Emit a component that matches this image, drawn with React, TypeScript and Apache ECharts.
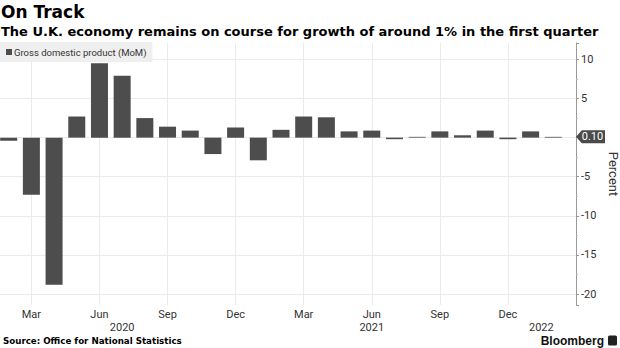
import React, { useEffect, useRef } from "react";
import * as echarts from "echarts";

const categories = [
  "Jan 2020", "Feb 2020", "Mar 2020", "Apr 2020", "May 2020", "Jun 2020",
  "Jul 2020", "Aug 2020", "Sep 2020", "Oct 2020", "Nov 2020", "Dec 2020",
  "Jan 2021", "Feb 2021", "Mar 2021", "Apr 2021", "May 2021", "Jun 2021",
  "Jul 2021", "Aug 2021", "Sep 2021", "Oct 2021", "Nov 2021", "Dec 2021",
  "Jan 2022", "Feb 2022", "Mar 2022",
];

const gdpMoM: (number | null)[] = [
  null, -0.4, -7.3, -18.8, 2.7, 9.5, 7.9, 2.5, 1.4, 0.9, -2.1, 1.3,
  -2.9, 1.0, 2.7, 2.6, 0.8, 0.9, -0.2, 0.1, 0.8, 0.3, 0.9, -0.2,
  0.8, 0.1, null,
];

const monthTickIndices = [2, 5, 8, 11, 14, 17, 20, 23];
const yearLabelIndices = [6, 17, 25];
const yearLabelTexts = ["2020", "2021", "2022"];

const seriesName = "Gross domestic product (MoM)";
const lastIndex = 25;

// the chart canvas starts 14px left of the page so the first month sits off-screen
const SHIFT = 14;

export default function App() {
  const ref = useRef<HTMLDivElement>(null);
  useEffect(() => {
    document.body.style.margin = "0";
    document.body.style.overflow = "hidden";
    if (!ref.current) return;
    const chart = echarts.init(ref.current, null, { renderer: "svg" });
    const lastValue = gdpMoM[lastIndex] as number;
    const gridColor = "#ebebeb";
    const labelFont = "Roboto";
    chart.setOption({
      animation: false,
      title: {
        text: "On Track",
        subtext: "The U.K. economy remains on course for growth of around 1% in the first quarter",
        left: SHIFT,
        top: 0,
        padding: [3, 0, 0, 1],
        itemGap: 5,
        textStyle: { fontFamily: "DejaVu Sans", fontWeight: "bold", fontSize: 17, color: "#000" },
        subtextStyle: { fontFamily: "DejaVu Sans", fontWeight: "bold", fontSize: 13, color: "#000" },
      },
      legend: {
        data: [seriesName],
        left: SHIFT,
        top: 42,
        padding: [5, 6, 5, 6],
        backgroundColor: "#efefef",
        icon: "rect",
        itemWidth: 6,
        itemHeight: 6,
        selectedMode: false,
        textStyle: { fontFamily: labelFont, fontSize: 9.5, color: "#333", padding: [0, 0, 0, -3] },
      },
      grid: { left: 0, right: 44, top: 43, bottom: 43, outerBoundsMode: "none", containLabel: false },
      xAxis: [
        {
          type: "category",
          data: categories,
          boundaryGap: false,
          axisLine: { show: false },
          axisTick: { show: false },
          axisLabel: {
            interval: (i: number) => monthTickIndices.includes(i),
            formatter: (v: string) => v.split(" ")[0],
            color: "#333",
            fontFamily: labelFont,
            fontSize: 11,
            margin: 4,
          },
          splitLine: {
            show: true,
            interval: (i: number) => monthTickIndices.includes(i),
            lineStyle: { color: gridColor, width: 1 },
          },
        },
        {
          type: "category",
          data: categories,
          boundaryGap: false,
          position: "bottom",
          offset: 13,
          axisLine: { show: false },
          axisTick: { show: false },
          splitLine: { show: false },
          axisLabel: {
            interval: (i: number) => yearLabelIndices.includes(i),
            formatter: (_v: string, i: number) => {
              const k = yearLabelIndices.indexOf(i);
              if (k < 0) return "";
              return k === yearLabelIndices.length - 1
                ? "{s|" + yearLabelTexts[k] + "}"
                : yearLabelTexts[k];
            },
            color: "#333",
            fontFamily: labelFont,
            fontSize: 11,
            margin: 4,
            rich: {
              s: { padding: [0, 24, 0, 0], color: "#333", fontFamily: labelFont, fontSize: 11 },
            },
          },
        },
      ],
      yAxis: {
        type: "value",
        position: "right",
        min: -21.4,
        max: 12.1,
        splitNumber: 5,
        axisLine: { show: true, lineStyle: { color: "#999", width: 1 } },
        axisTick: { show: true, length: 3, lineStyle: { color: "#999" } },
        minorTick: { show: true, splitNumber: 2, length: 2, lineStyle: { color: "#bbb" } },
        axisLabel: {
          color: "#333",
          fontFamily: labelFont,
          fontSize: 11,
          margin: 5,
          showMinLabel: false,
          showMaxLabel: false,
          formatter: (v: number) => (v === 0 ? "" : String(v)),
        },
        splitLine: {
          show: true,
          showMinLine: false,
          showMaxLine: false,
          lineStyle: { color: gridColor, width: 1 },
        },
        name: "Percent",
        nameLocation: "middle",
        nameRotate: -90,
        nameGap: 30,
        nameTextStyle: { color: "#333", fontFamily: labelFont, fontSize: 13 },
      },
      series: [
        {
          name: seriesName,
          type: "bar",
          data: gdpMoM,
          barWidth: 17,
          clip: false,
          itemStyle: { color: "#4d4d4d" },
          markPoint: {
            silent: true,
            symbol: "path://M0,6.5 L6,0 L30,0 L30,13 L6,13 Z",
            symbolSize: [29, 13],
            symbolKeepAspect: false,
            symbolOffset: [14.5, 0],
            itemStyle: { color: "#4a4a4a" },
            label: {
              show: true,
              position: "inside",
              offset: [2, 0],
              formatter: "{c}",
              color: "#fff",
              fontFamily: labelFont,
              fontSize: 11,
            },
            data: [
              {
                coord: [categories[categories.length - 1], lastValue],
                value: lastValue.toFixed(2),
              },
            ],
          },
        },
      ],
      graphic: [
        {
          type: "text",
          left: SHIFT + 3,
          top: 336,
          style: {
            text: "Source: Office for National Statistics",
            font: 'bold 8.7px "DejaVu Sans"',
            fill: "#000",
          },
        },
        {
          type: "text",
          right: 16,
          top: 334.5,
          style: {
            text: "Bloomberg",
            font: 'bold 12px "Liberation Sans"',
            fill: "#111",
          },
        },
        {
          type: "rect",
          right: 3,
          top: 335.5,
          shape: { width: 9, height: 10, r: 1.5 },
          style: { fill: "#222" },
        },
      ],
    });
    return () => chart.dispose();
  }, []);
  return (
    <div
      ref={ref}
      style={{ width: 620 + SHIFT, height: 348, marginLeft: -SHIFT }}
    />
  );
}
